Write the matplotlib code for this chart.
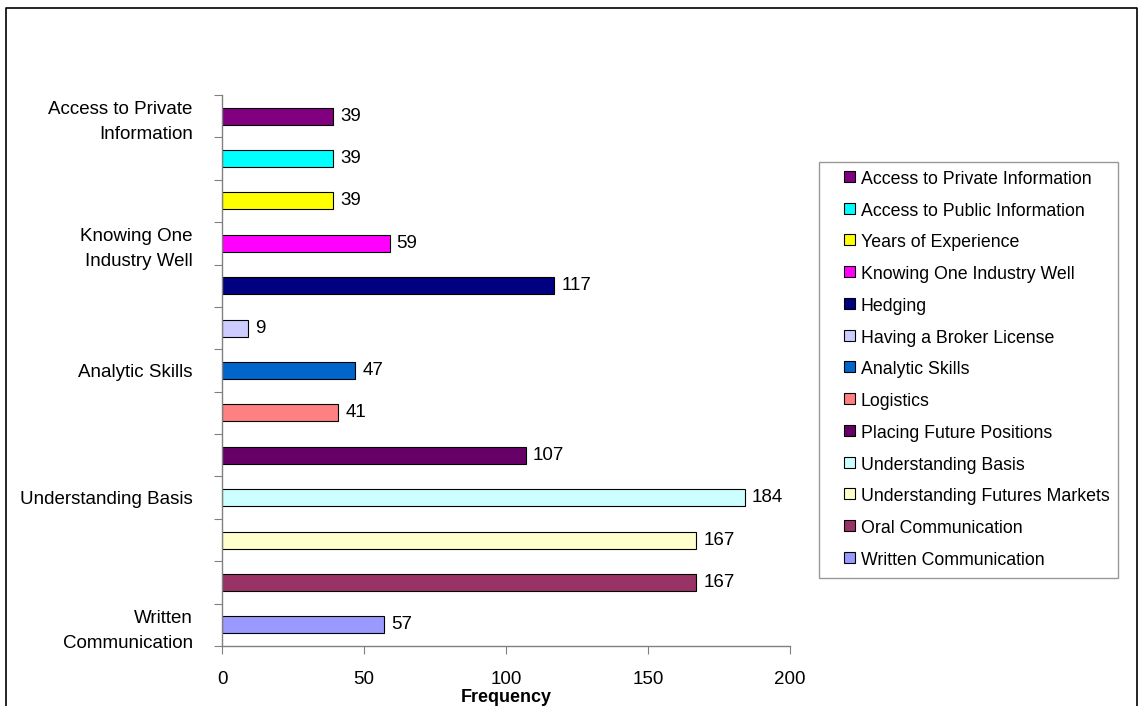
import matplotlib.pyplot as plt
from matplotlib.lines import Line2D
from matplotlib.patches import Patch, Rectangle
from matplotlib.legend_handler import HandlerPatch
import numpy as np

plt.rcParams['font.family'] = ['Liberation Sans', 'DejaVu Sans']

# Dane od dołu do góry (tak jak w wykresie)
categories = ['Written Communication', 'Oral Communication', 'Understanding Futures Markets',
              'Understanding Basis', 'Placing Future Positions', 'Logistics', 'Analytic Skills',
              'Having a Broker License', 'Hedging', 'Knowing One Industry Well',
              'Years of Experience', 'Access to Public Information', 'Access to Private Information']
values = [57, 167, 167, 184, 107, 41, 47, 9, 117, 59, 39, 39, 39]
colors = ['#9999FF', '#993366', '#FFFFCC', '#CCFFFF', '#660066', '#FF8080', '#0066CC',
          '#CCCCFF', '#000080', '#FF00FF', '#FFFF00', '#00FFFF', '#800080']
tick_labels = {0: 'Written\nCommunication', 3: 'Understanding Basis', 6: 'Analytic Skills',
               9: 'Knowing One\nIndustry Well', 12: 'Access to Private\nInformation'}
xticks = [0, 50, 100, 150, 200]

FS = 13.5

fig = plt.figure(figsize=(11.39, 7.06), dpi=100)
ax = fig.add_axes([222 / 1139, 60 / 706, 568 / 1139, 551 / 706])

y = np.arange(len(categories))
ax.barh(y, values, height=0.4, color=colors, edgecolor='black', linewidth=0.8)
for yi, v in zip(y, values):
    ax.text(v + 2.5, yi, str(v), va='center', ha='left', fontsize=FS)

ax.set_xlim(0, 200)
ax.set_ylim(-0.5, len(categories) - 0.5)
ax.set_xticks(xticks)
ax.set_xticklabels([str(t) for t in xticks], fontsize=FS)
ax.tick_params(axis='x', direction='out', length=6, color='#808080', pad=12)

# ticki na granicach kategorii, etykiety co trzecią
ax.set_yticks(np.arange(-0.5, len(categories), 1.0))
ax.set_yticklabels([])
ax.tick_params(axis='y', which='major', direction='out', length=6, color='#808080')
ax.set_yticks(list(tick_labels.keys()), minor=True)
ax.set_yticklabels(list(tick_labels.values()), minor=True, fontsize=FS, ha='right',
                   linespacing=1.6)
ax.tick_params(axis='y', which='minor', length=0, pad=21)

for s in ['top', 'right']:
    ax.spines[s].set_visible(False)
for s in ['left', 'bottom']:
    ax.spines[s].set_color('#808080')
    ax.spines[s].set_linewidth(1.0)

ax.set_xlabel('Frequency', fontsize=13, fontweight='bold', labelpad=1)


# mały kwadracik w legendzie, przesunięty w prawo
def small_square(legend, orig_handle, xdescent, ydescent, width, height, fontsize):
    sq = 0.62 * fontsize
    return Rectangle((-xdescent + width - sq, -ydescent + (height - sq) / 2 + 1), sq, sq)


# Legenda w kolejności od góry
handles = [Patch(facecolor=c, edgecolor='black', linewidth=0.8) for c in colors[::-1]]
leg = fig.legend(handles, categories[::-1], loc='upper left',
                 bbox_to_anchor=(819 / 1139, 1 - 162 / 706), fontsize=12.8,
                 frameon=True, fancybox=False, edgecolor='#808080',
                 handlelength=1.5, handleheight=0.8, labelspacing=0.83,
                 borderpad=0.5, handletextpad=0.35, borderaxespad=0,
                 handler_map={Patch: HandlerPatch(patch_func=small_square)})
leg.get_frame().set_linewidth(1.0)

# ramka dookoła (dół obcięty)
x0, x1, ytop = 6 / 1139, 1137 / 1139, 1 - 8 / 706
fig.add_artist(Line2D([x0, x0, x1, x1], [0, ytop, ytop, 0], transform=fig.transFigure,
                      color='black', linewidth=1.2))

fig.savefig('out.png', dpi=100)
